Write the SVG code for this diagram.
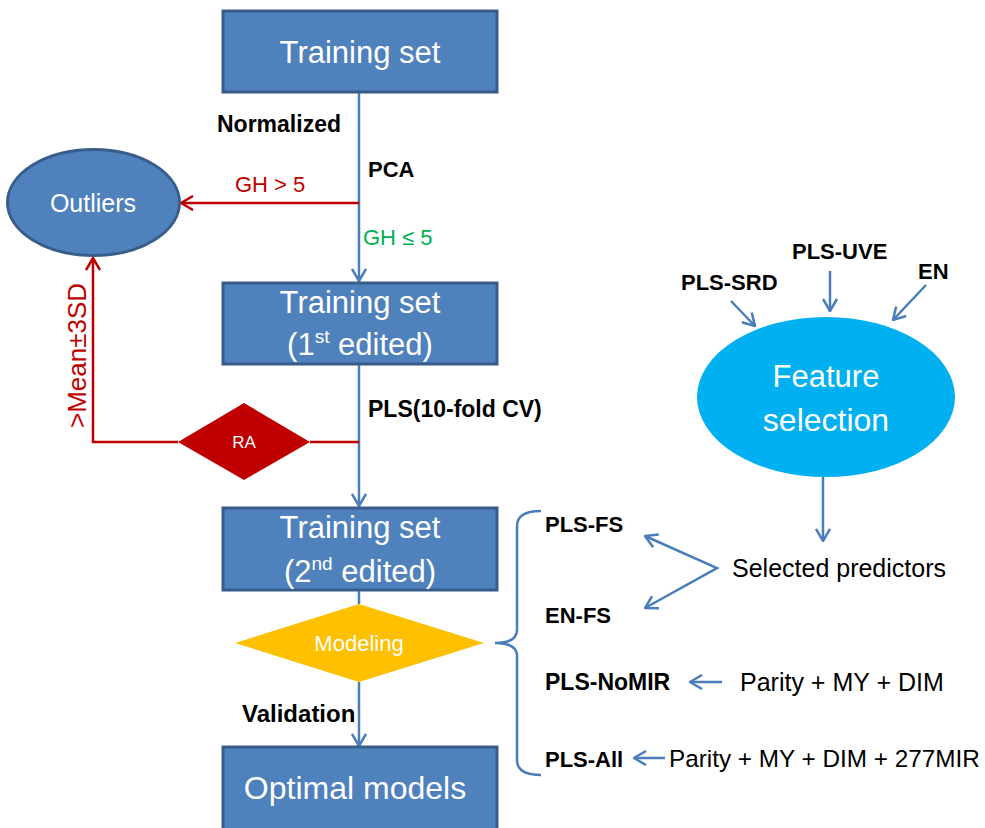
<svg xmlns="http://www.w3.org/2000/svg" width="985" height="828" viewBox="0 0 985 828">
<defs>
<style>
.box{fill:#4F81BD;stroke:#385D8A;stroke-width:3}
.wt{fill:#FFFFFF;font-family:"Liberation Sans",Arial,sans-serif;text-anchor:middle}
.bl{fill:#000000;font-family:"Liberation Sans",Arial,sans-serif;font-weight:bold}
.nt{fill:#000000;font-family:"Liberation Sans",Arial,sans-serif}
.bline{fill:none;stroke:#4A7EBB;stroke-width:2.5}
.rline{fill:none;stroke:#C00000;stroke-width:2.5}
</style>
<marker id="ab" viewBox="0 0 14 16" refX="13" refY="8" markerWidth="14" markerHeight="16" markerUnits="userSpaceOnUse" orient="auto-start-reverse">
<path d="M1,1 L13,8 L1,15" fill="none" stroke="#4A7EBB" stroke-width="2.5"/>
</marker>
<marker id="ar" viewBox="0 0 14 16" refX="13" refY="8" markerWidth="14" markerHeight="16" markerUnits="userSpaceOnUse" orient="auto-start-reverse">
<path d="M1,1 L13,8 L1,15" fill="none" stroke="#C00000" stroke-width="2.5"/>
</marker>
</defs>
<rect width="985" height="828" fill="#FFFFFF"/>

<g id="connectors">
<line class="bline" x1="359" y1="92" x2="359" y2="281" marker-end="url(#ab)"/>
<line class="bline" x1="359" y1="364" x2="359" y2="506" marker-end="url(#ab)"/>
<line class="bline" x1="359" y1="590" x2="359" y2="604"/>
<line class="bline" x1="359" y1="682" x2="359" y2="746" marker-end="url(#ab)"/>
<line class="rline" x1="359" y1="203" x2="181" y2="203" marker-end="url(#ar)"/>
<line class="rline" x1="359" y1="442" x2="310" y2="442"/>
<path class="rline" d="M178,442 H93 V258" marker-end="url(#ar)"/>
<line class="bline" x1="731" y1="301" x2="755" y2="326" marker-end="url(#ab)"/>
<line class="bline" x1="830" y1="271" x2="830" y2="311" marker-end="url(#ab)"/>
<line class="bline" x1="926" y1="285" x2="893" y2="320" marker-end="url(#ab)"/>
<line class="bline" x1="823" y1="477" x2="823" y2="541" marker-end="url(#ab)"/>
<polyline class="bline" points="645,536 717,568 645,608" marker-start="url(#ab)" marker-end="url(#ab)"/>
<line class="bline" x1="722" y1="682" x2="690" y2="682" marker-end="url(#ab)"/>
<line class="bline" x1="665" y1="758" x2="634" y2="758" marker-end="url(#ab)"/>
<path class="bline" d="M541,511 Q517,511 517,526 V630 Q517,643 495,643 Q517,643 517,656 V760 Q517,775 541,775"/>
</g>

<g id="training-set">
<rect class="box" x="223" y="11" width="274" height="81"/>
<text class="wt" x="360" y="63" font-size="31">Training set</text>
</g>

<g id="training-set-1st">
<rect class="box" x="223" y="283" width="274" height="81"/>
<text class="wt" x="360" y="313" font-size="31">Training set</text>
<text class="wt" x="360" y="355" font-size="31">(1<tspan font-size="19" dy="-12">st</tspan><tspan dy="12"> edited)</tspan></text>
</g>

<g id="training-set-2nd">
<rect class="box" x="223" y="508" width="274" height="82"/>
<text class="wt" x="360" y="538" font-size="31">Training set</text>
<text class="wt" x="360" y="582" font-size="31">(2<tspan font-size="19" dy="-12">nd</tspan><tspan dy="12"> edited)</tspan></text>
</g>

<g id="optimal-models">
<rect class="box" x="223" y="747" width="274" height="84"/>
<text class="wt" x="355" y="799" font-size="32">Optimal models</text>
</g>

<g id="outliers">
<ellipse cx="93.5" cy="202.5" rx="86" ry="53" fill="#4F81BD" stroke="#385D8A" stroke-width="3"/>
<text class="wt" x="93" y="212" font-size="25">Outliers</text>
</g>

<g id="ra">
<polygon points="178,442 244,403 310,442 244,480" fill="#C00000"/>
<text class="wt" x="244" y="448" font-size="17">RA</text>
</g>

<g id="modeling">
<polygon points="235,643 359,604 484,643 359,682" fill="#FFC000"/>
<text class="wt" x="359" y="651" font-size="22">Modeling</text>
</g>

<g id="feature-selection">
<ellipse cx="826" cy="397" rx="129" ry="80" fill="#00B0F0"/>
<text class="wt" x="826" y="387" font-size="31">Feature</text>
<text class="wt" x="826" y="431" font-size="32">selection</text>
</g>

<g id="labels">
<text class="bl" x="217" y="132" font-size="23">Normalized</text>
<text class="bl" x="368" y="177" font-size="22">PCA</text>
<text x="235" y="192" font-size="22" fill="#C00000" font-family="Liberation Sans,Arial,sans-serif">GH &gt; 5</text>
<text x="363" y="245" font-size="22" fill="#00B050" font-family="Liberation Sans,Arial,sans-serif">GH ≤ 5</text>
<text transform="translate(86,428) rotate(-90)" font-size="26" fill="#C00000" font-family="Liberation Sans,Arial,sans-serif">&gt;Mean±3SD</text>
<text class="bl" x="368" y="417" font-size="23">PLS(10-fold CV)</text>
<text class="bl" x="242" y="722" font-size="24">Validation</text>
<text class="bl" x="681" y="290" font-size="22">PLS-SRD</text>
<text class="bl" x="792" y="259" font-size="22">PLS-UVE</text>
<text class="bl" x="918" y="279" font-size="22">EN</text>
<text class="bl" x="545" y="532" font-size="22">PLS-FS</text>
<text class="bl" x="545" y="623" font-size="22">EN-FS</text>
<text class="bl" x="545" y="690" font-size="23">PLS-NoMIR</text>
<text class="bl" x="545" y="767" font-size="22">PLS-All</text>
<text class="nt" x="732" y="577" font-size="25">Selected predictors</text>
<text class="nt" x="740" y="691" font-size="25">Parity + MY + DIM</text>
<text class="nt" x="669" y="767" font-size="24.3">Parity + MY + DIM + 277MIR</text>
</g>
</svg>
